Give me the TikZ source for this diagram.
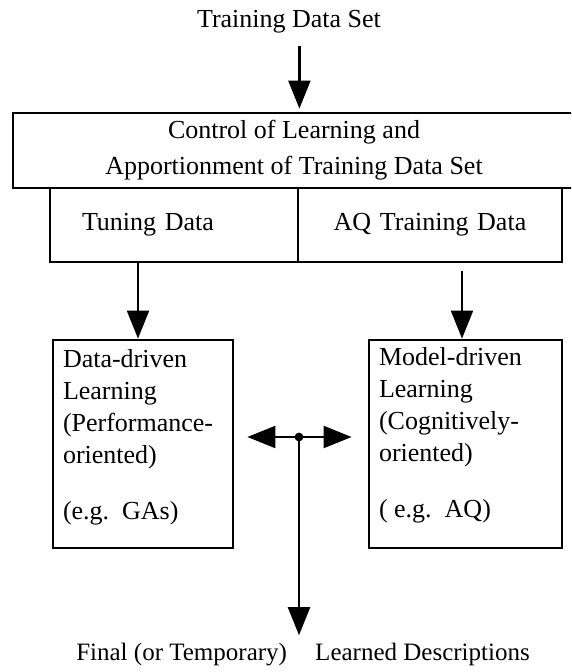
\documentclass[tikz,border=0pt]{standalone}
\usepackage{fontspec}
\setmainfont{Liberation Serif}
\usetikzlibrary{arrows.meta,positioning}

\tikzset{
  txt/.style={font=\fontsize{13}{16}\selectfont},
  blk/.style={draw, line width=1.4pt, inner sep=0pt},
  arr/.style={line width=1.1pt, -{Triangle[length=14pt,width=11pt]}},
}

\begin{document}
\begin{tikzpicture}[x=0.5pt, y=-0.5pt]
    % page = 571 x 672 px, y runs downwards
    \useasboundingbox (0,0) rectangle (571,672);
    \clip (0,0) rectangle (571,672);
    \node[txt, inner sep=1pt] (src) at (289,22) {Training Data Set};
    % control box (its right side runs off the page)
    \node[blk, minimum width=281pt, minimum height=37.5pt, align=center,
          font=\fontsize{13}{18}\selectfont] (ctrl) at (294,150.5)
          {Control of Learning and\\Apportionment of Training Data Set};
    % the two data streams below it
    \node[blk, txt, minimum width=124pt, minimum height=37pt, text width=92pt,
          inner xsep=16pt, align=left] (tune) at (174,225) {Tuning Data};
    \node[blk, txt, minimum width=132pt, minimum height=37pt, inner xsep=0pt,
          text width=132pt, align=center] (aqd) at (430,225) {AQ Training Data\hspace{12pt}};
    % learners
    \node[blk, minimum width=90pt, minimum height=104pt] (ddl) at (143,444) {};
    \node[blk, minimum width=96.5pt, minimum height=104pt] (mdl) at (465.5,444) {};
    \node[txt, anchor=north west, align=left, inner sep=0pt]
        (ddltxt) at ([xshift=5.5pt, yshift=-5pt]ddl.north west)
        {Data-driven\\Learning\\(Performance-\\oriented)\\[12pt](e.g.~~GAs)};
    \node[txt, anchor=north west, align=left, inner sep=0pt]
        (mdltxt) at ([xshift=5.5pt, yshift=-4pt]mdl.north west)
        {Model-driven\\Learning\\(Cognitively-\\oriented)\\[12pt]( e.g.~~AQ)};
    \node[txt, font=\fontsize{12.5}{14}\selectfont, inner sep=1pt] (out) at (303,655)
        {Final (or Temporary)\hspace{11pt} Learned Descriptions};
    % connectors
    \draw[arr, shorten <=5pt, shorten >=1.5pt] (src.south -| tune.east) -- (ctrl.north -| tune.east);
    \draw[arr] ([xshift=-2.5pt]tune.south -| ddl.north) -- ([xshift=-2.5pt]ddl.north);
    \draw[arr, shorten <=4pt] ([xshift=-1.75pt]aqd.south -| mdl.north) -- ([xshift=-1.75pt]mdl.north);
    \coordinate (hub) at (299,437);
    \draw[arr] (hub) -- ([xshift=6.5pt]ddl.east |- hub);
    \draw[arr] (hub) -- ([xshift=-8pt]mdl.west |- hub);
    \draw[arr, shorten >=3pt] (hub) -- (out.north -| hub);
    \fill (hub) circle (2.2pt);
\end{tikzpicture}
\end{document}
